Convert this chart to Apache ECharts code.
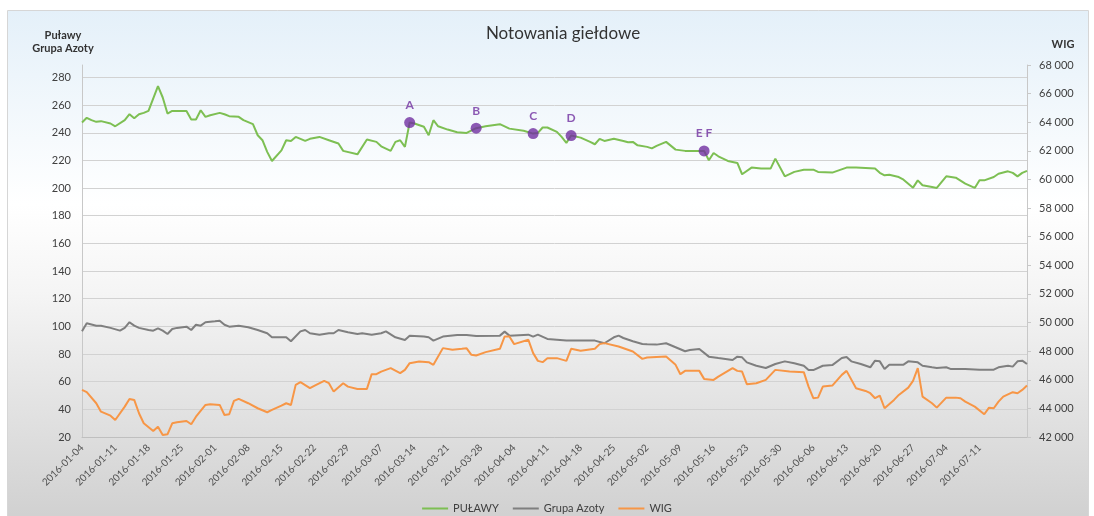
<!DOCTYPE html>
<html>
<head>
<meta charset="utf-8">
<script src="https://cdn.jsdelivr.net/npm/echarts@6.0.0/dist/echarts.min.js"></script>
<style>
html,body{margin:0;padding:0;background:#ffffff;}
#chart{width:1094px;height:516px;}
</style>
</head>
<body>
<div id="chart"></div>
<script>
// ---- tick labels ----
const xTickLabels = ['2016-01-04','2016-01-11','2016-01-18','2016-01-25','2016-02-01','2016-02-08','2016-02-15',
  '2016-02-22','2016-02-29','2016-03-07','2016-03-14','2016-03-21','2016-03-28','2016-04-04','2016-04-11',
  '2016-04-18','2016-04-25','2016-05-02','2016-05-09','2016-05-16','2016-05-23','2016-05-30','2016-06-06',
  '2016-06-13','2016-06-20','2016-06-27','2016-07-04','2016-07-11'];

// ---- PUŁAWY (left axis) ----
const pulawyDates = ['01-04','01-05','01-06','01-07','01-08','01-10','01-11','01-13','01-14','01-15','01-16','01-17','01-18',
  '01-20','01-21','01-22','01-23','01-26','01-27','01-28','01-29','01-30','01-31','02-02','02-03','02-04','02-06','02-07',
  '02-09','02-10','02-11','02-12','02-13','02-15','02-16','02-17','02-18','02-20','02-21','02-23','02-25','02-27','02-28',
  '03-02','03-04','03-06','03-07','03-09','03-10','03-11','03-12','03-13','03-14','03-16','03-17','03-18','03-19','03-21',
  '03-23','03-25','03-27','03-29','04-01','04-03','04-06','04-08','04-09','04-10','04-11','04-13','04-14','04-15','04-16',
  '04-18','04-20','04-21','04-22','04-23','04-25','04-27','04-28','04-29','04-30','05-02','05-03','05-04','05-06','05-08',
  '05-10','05-12','05-14','05-15','05-16','05-17','05-19','05-21','05-22','05-24','05-26','05-28','05-29','05-31','06-02',
  '06-04','06-06','06-07','06-10','06-13','06-15','06-17','06-19','06-20','06-21','06-22','06-24','06-25','06-26','06-27',
  '06-28','06-29','07-01','07-02','07-04','07-06','07-08','07-10','07-11','07-12','07-14','07-15','07-17','07-18','07-19',
  '07-20','07-21'];
const pulawyValues = [247.4,250.8,249.1,247.9,248.4,246.7,244.7,249.1,253.4,250.5,253.4,254.4,255.8,
  273.7,265.5,253.9,255.8,255.8,249.6,249.6,256.3,251.5,252.7,254.4,253.4,252.0,251.5,249.1,
  246.2,238.2,234.6,226.2,219.6,227.3,234.6,234.1,237.0,234.1,235.6,237.0,234.6,232.2,226.9,
  224.4,235.1,233.4,230.2,226.9,233.4,234.6,229.8,247.4,246.7,244.3,238.2,249.1,244.7,242.3,
  240.4,239.9,243.3,244.7,246.2,243.0,241.4,239.4,239.9,243.8,243.8,240.6,237.0,232.7,238.0,
  236.5,233.4,231.7,235.6,234.1,235.6,234.1,233.1,233.4,230.9,229.8,228.7,230.5,233.4,227.8,
  226.9,226.9,226.9,220.1,225.4,223.0,219.6,218.2,210.0,214.8,214.1,214.1,221.3,208.5,211.7,
  213.3,213.3,211.7,211.2,214.8,214.8,214.6,214.1,211.0,209.2,209.7,208.0,206.1,203.2,200.3,
  205.6,202.0,200.8,200.1,208.5,207.5,203.2,200.1,205.6,205.6,208.0,210.4,212.1,211.0,208.5,
  211.0,212.4];

// ---- Grupa Azoty (left axis) ----
const azotyDates = ['01-04','01-05','01-07','01-08','01-10','01-12','01-13','01-14','01-15','01-16','01-18','01-19','01-20',
  '01-21','01-22','01-23','01-24','01-26','01-27','01-28','01-29','01-30','02-01','02-02','02-03','02-04','02-06','02-08',
  '02-10','02-12','02-13','02-16','02-17','02-19','02-20','02-21','02-23','02-25','02-26','02-27','02-29','03-02','03-03',
  '03-05','03-07','03-08','03-10','03-12','03-13','03-16','03-17','03-18','03-20','03-23','03-25','03-27','04-01','04-02',
  '04-03','04-07','04-08','04-09','04-11','04-13','04-15','04-18','04-21','04-23','04-25','04-26','04-27','04-29','05-01',
  '05-02','05-04','05-06','05-08','05-10','05-11','05-13','05-15','05-17','05-20','05-21','05-22','05-23','05-25','05-27',
  '05-29','05-31','06-02','06-04','06-05','06-06','06-08','06-10','06-12','06-13','06-14','06-16','06-18','06-19','06-20',
  '06-21','06-22','06-25','06-26','06-28','06-29','07-01','07-02','07-04','07-05','07-08','07-11','07-14','07-15','07-17',
  '07-18','07-19','07-20','07-21'];
const azotyValues = [96.4,102.3,100.5,100.5,98.9,96.9,98.9,103.0,100.5,98.9,97.4,96.9,98.6,
  96.9,94.5,98.1,98.9,99.8,97.4,101.2,100.5,103.0,103.7,104.1,101.2,99.8,100.5,99.4,
  97.4,95.0,92.1,92.1,89.2,96.4,97.4,95.0,94.0,95.0,95.0,97.4,95.7,94.5,95.0,
  94.0,95.0,96.4,92.1,90.2,93.3,92.6,92.1,89.7,92.6,93.8,93.8,93.1,93.3,96.2,
  93.3,94.0,92.6,94.0,90.9,90.4,89.7,89.7,89.7,87.8,92.1,93.3,91.6,89.2,87.3,
  87.0,86.8,87.8,84.9,82.0,82.9,83.6,78.1,77.1,75.7,78.1,77.6,74.0,71.5,69.9,
  72.8,74.7,73.3,71.5,68.4,68.4,71.5,72.0,77.1,77.9,74.7,72.8,70.4,75.2,74.7,
  69.1,72.3,72.3,74.7,74.0,71.5,70.4,69.9,70.4,69.1,69.1,68.7,68.7,70.4,71.5,
  70.9,74.7,75.2,72.8];

// ---- WIG (right axis) ----
const wigDates = ['01-04','01-05','01-07','01-08','01-10','01-11','01-13','01-14','01-15','01-16','01-17','01-19','01-20',
  '01-21','01-22','01-23','01-24','01-26','01-27','01-28','01-30','01-31','02-02','02-03','02-04','02-05','02-06','02-08',
  '02-10','02-12','02-13','02-15','02-16','02-17','02-18','02-19','02-21','02-22','02-24','02-25','02-26','02-28','02-29',
  '03-02','03-04','03-05','03-06','03-07','03-09','03-11','03-12','03-13','03-15','03-17','03-18','03-20','03-22','03-24',
  '03-25','03-26','03-27','03-29','04-01','04-02','04-03','04-04','04-07','04-08','04-09','04-10','04-11','04-13','04-15',
  '04-16','04-18','04-21','04-22','04-23','04-26','04-29','05-01','05-02','05-06','05-08','05-09','05-10','05-13','05-14',
  '05-16','05-17','05-20','05-21','05-22','05-23','05-25','05-27','05-29','06-01','06-04','06-05','06-06','06-07','06-08',
  '06-10','06-12','06-13','06-15','06-17','06-18','06-19','06-20','06-21','06-23','06-24','06-26','06-27','06-28','06-29',
  '07-01','07-02','07-04','07-06','07-07','07-08','07-10','07-12','07-13','07-14','07-15','07-16','07-18','07-19','07-20',
  '07-21'];
const wigValues = [45291,45130,44360,43772,43492,43191,44122,44661,44591,43660,42959,42420,42721,
  42140,42189,42959,43029,43120,42889,43422,44241,44290,44241,43541,43590,44521,44661,44360,
  44010,43730,43891,44192,44360,44241,45642,45831,45410,45593,45922,45761,45172,45761,45522,
  45361,45361,46391,46391,46573,46811,46461,46692,47161,47273,47231,47042,48212,48093,48163,
  48200,47742,47693,47931,48163,49024,49024,48492,48793,47861,47322,47231,47511,47511,47322,
  48163,48023,48163,48492,48562,48324,47974,47462,47553,47623,47042,46391,46622,46622,46062,
  45992,46223,46811,46622,46573,45691,45761,45992,46692,46573,46531,45522,44710,44752,45522,
  45593,46342,46622,45410,45221,45060,44710,44892,44010,44591,44941,45452,45922,46811,44822,
  44360,44052,44752,44752,44710,44472,44122,43590,44052,44010,44472,44822,45130,45060,45291,
  45593];

// ---- event markers on PUŁAWY ----
const markerDates = ['03-13','03-27','04-08','04-16','05-14'];
const markerValues = [247.4,243.3,239.4,238.0,226.9];
const markerLabels = ['A','B','C','D','E F'];

const YEAR = '2016-';
const pairs = (dates, vals) => dates.map((d, i) => [YEAR + d, vals[i]]);
const toTs = s => { const p = s.split('-').map(Number); return +new Date(p[0], p[1] - 1, p[2]); };
const tickTs = xTickLabels.map(toTs);
const spaced = v => String(v).replace(/\B(?=(\d{3})+(?!\d))/g, ' ');

const FONT = 'Lato, "Open Sans", sans-serif';
const chart = echarts.init(document.getElementById('chart'), null, {renderer: 'canvas'});

chart.setOption({
  animation: false,
  textStyle: {fontFamily: FONT},
  graphic: [{
    type: 'rect', z: -100, silent: true,
    shape: {x: 7.5, y: 10.5, width: 1081, height: 510},
    style: {
      fill: new echarts.graphic.LinearGradient(0, 0, 0, 1, [
        {offset: 0, color: '#e4f0f9'},
        {offset: 0.38, color: '#ffffff'},
        {offset: 0.55, color: '#f5f5f5'},
        {offset: 1, color: '#d0d0d0'}
      ]),
      stroke: '#d6d6d6', lineWidth: 1
    }
  }],
  title: {
    text: 'Notowania giełdowe',
    left: 558, top: 20, textAlign: 'center',
    textStyle: {fontFamily: FONT, fontSize: 17, fontWeight: 'normal', color: '#333333'}
  },
  legend: {
    bottom: -3, left: 'center',
    itemWidth: 26, itemHeight: 2, itemGap: 14,
    textStyle: {fontFamily: FONT, fontSize: 11, color: '#404040'},
    data: [
      {name: 'PUŁAWY', icon: 'rect'},
      {name: 'Grupa Azoty', icon: 'rect'},
      {name: 'WIG', icon: 'rect'}
    ]
  },
  grid: {left: 82, right: 67, top: 65, bottom: 79},
  xAxis: {
    type: 'time',
    min: YEAR + '01-04', max: YEAR + '07-21',
    axisLine: {show: true, lineStyle: {color: '#bfbfbf'}},
    axisTick: {show: false},
    splitLine: {show: false},
    axisLabel: {
      customValues: tickTs,
      rotate: 45, fontSize: 10, color: '#505050', margin: 9,
      fontFamily: FONT,
      formatter: '{yyyy}-{MM}-{dd}'
    }
  },
  yAxis: [{
    type: 'value', min: 20, max: 289, interval: 20,
    name: 'Puławy\nGrupa Azoty', nameLocation: 'end', nameGap: 10,
    nameTextStyle: {fontFamily: FONT, fontWeight: 'bold', fontSize: 11, color: '#333333',
      align: 'center', lineHeight: 13, padding: [0, 38, 0, 0]},
    axisLine: {show: true, lineStyle: {color: '#c8c8c8'}},
    axisTick: {show: false},
    axisLabel: {fontSize: 11, color: '#404040', margin: 11, showMaxLabel: false, fontFamily: FONT},
    splitLine: {show: true, showMaxLine: false, lineStyle: {color: '#d2d2d2', width: 1}}
  }, {
    type: 'value', min: 42000, max: 68000, interval: 2000, position: 'right',
    name: 'WIG', nameLocation: 'end', nameGap: 15,
    nameTextStyle: {fontFamily: FONT, fontWeight: 'bold', fontSize: 11, color: '#333333',
      align: 'center', padding: [0, 0, 0, 72]},
    axisLine: {show: true, lineStyle: {color: '#c8c8c8'}},
    axisTick: {show: true, length: 4, lineStyle: {color: '#c8c8c8'}},
    axisLabel: {fontSize: 11, color: '#404040', margin: 12, formatter: spaced, fontFamily: FONT},
    splitLine: {show: false}
  }],
  series: [{
    name: 'PUŁAWY', type: 'line', yAxisIndex: 0, showSymbol: false, z: 3,
    itemStyle: {color: '#7dbf53'},
    lineStyle: {color: '#7dbf53', width: 2},
    data: pairs(pulawyDates, pulawyValues)
  }, {
    name: 'Grupa Azoty', type: 'line', yAxisIndex: 0, showSymbol: false, z: 2,
    itemStyle: {color: '#7f7f7f'},
    lineStyle: {color: '#7f7f7f', width: 2},
    data: pairs(azotyDates, azotyValues)
  }, {
    name: 'WIG', type: 'line', yAxisIndex: 1, showSymbol: false, z: 2,
    itemStyle: {color: '#f79646'},
    lineStyle: {color: '#f79646', width: 2},
    data: pairs(wigDates, wigValues)
  }, {
    name: 'Wydarzenia', type: 'scatter', yAxisIndex: 0, z: 5,
    symbolSize: 11,
    itemStyle: {color: '#7030a0'},
    label: {show: true, position: 'top', distance: 6, color: '#7030a0', fontWeight: 'bold',
      fontSize: 12, fontFamily: FONT,
      formatter: p => markerLabels[p.dataIndex]},
    data: pairs(markerDates, markerValues)
  }]
});
</script>
</body>
</html>
